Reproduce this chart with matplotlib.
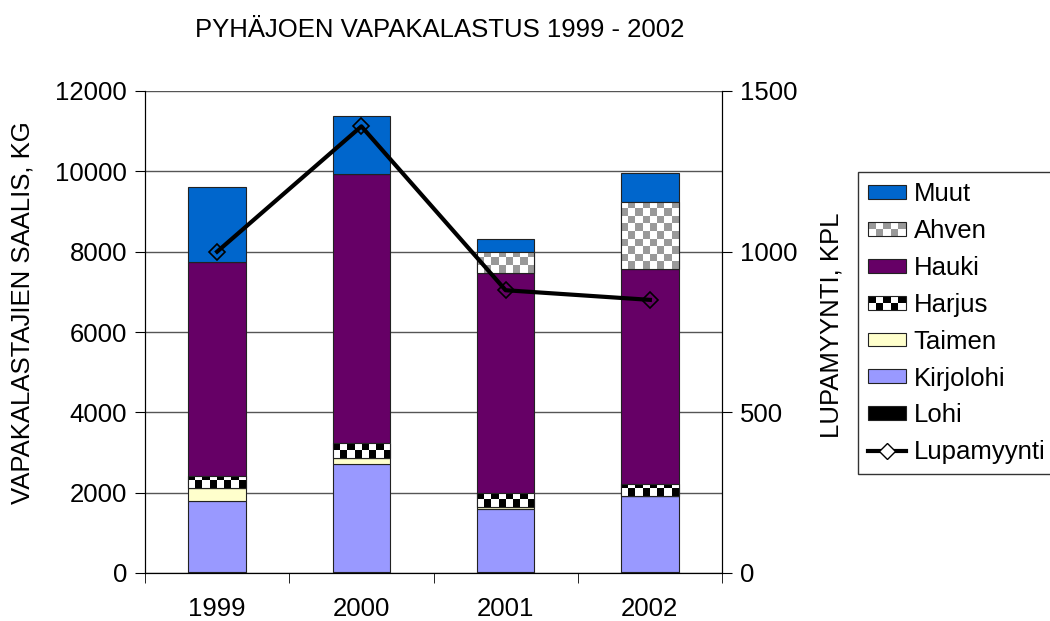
import numpy as np
import matplotlib
matplotlib.use("Agg")
import matplotlib.pyplot as plt
from matplotlib.patches import Rectangle, Patch
from matplotlib.lines import Line2D
from matplotlib.legend_handler import HandlerPatch

plt.rcParams['font.family'] = ['Liberation Sans', 'DejaVu Sans']

years = ['1999', '2000', '2001', '2002']
lohi = [30, 15, 30, 15]
kirjolohi = [1765, 2705, 1555, 1900]
taimen = [315, 135, 50, 0]
harjus = [305, 390, 350, 300]
hauki = [5330, 6690, 5480, 5360]
ahven = [0, 0, 530, 1670]
muut = [1875, 1445, 315, 705]
lupamyynti = [1000, 1390, 880, 850]

series = [
    ('Lohi', lohi, '#000000', None),
    ('Kirjolohi', kirjolohi, '#9999FF', None),
    ('Taimen', taimen, '#FFFFCC', None),
    ('Harjus', harjus, '#FFFFFF', '#000000'),
    ('Hauki', hauki, '#660066', None),
    ('Ahven', ahven, '#FFFFFF', '#999999'),
    ('Muut', muut, '#0066CC', None),
]

FS = 18.5

fig = plt.figure(figsize=(10.5, 6.21), dpi=100)
ax = fig.add_axes([145 / 1050, 1 - 573 / 621, 577 / 1050, 482 / 621])

x = np.arange(len(years))
width = 0.4
bottom = np.zeros(len(years))
patches = {}
for name, vals, col, checker in series:
    vals = np.array(vals, dtype=float)
    bars = ax.bar(x, vals, width, bottom=bottom, color=col, edgecolor='#222222',
                  linewidth=0.8, zorder=3)
    patches[name] = (col, checker)
    if checker is not None:
        # checkerboard fill, clipped to each bar
        cell_h = 187.0
        for rect, v, b in zip(bars, vals, bottom):
            if v <= 0:
                continue
            nrows = int(np.ceil(v / cell_h))
            grid = (np.indices((nrows, 8)).sum(axis=0) % 2).astype(float)
            cmap = matplotlib.colors.ListedColormap(['#FFFFFF', checker])
            x0 = rect.get_x()
            im = ax.imshow(grid, cmap=cmap, origin='lower', interpolation='nearest',
                           extent=(x0, x0 + width, b, b + nrows * cell_h),
                           aspect='auto', zorder=3.5)
            im.set_clip_path(rect)
            edge = Rectangle((x0, b), width, v, fill=False, edgecolor='#222222',
                             linewidth=0.8, zorder=3.6)
            ax.add_patch(edge)
    bottom += vals

ax.set_xlim(-0.5, 3.5)
ax.set_ylim(0, 12000)
ax.set_yticks(np.arange(0, 12001, 2000))
ax.yaxis.grid(True, color='#555555', linewidth=1)
ax.set_axisbelow(True)
ax.set_xticks(x)
ax.set_xticklabels(years, fontsize=FS)
ax.set_xticks(np.arange(-0.5, 3.6, 1), minor=True)
ax.tick_params(axis='x', which='major', length=0, pad=17)
ax.tick_params(axis='x', which='minor', length=7, direction='out')
ax.tick_params(axis='y', labelsize=FS, length=7, direction='out', pad=6)
ax.spines['top'].set_visible(False)

ax2 = ax.twinx()
ax2.plot(x, lupamyynti, color='black', linewidth=3, marker='D', markersize=8,
         markerfacecolor='none', markeredgecolor='black', markeredgewidth=1.2, zorder=5)
ax2.set_ylim(0, 1500)
ax2.set_yticks([0, 500, 1000, 1500])
ax2.tick_params(axis='y', labelsize=FS, length=7, direction='out', pad=6)
ax2.spines['top'].set_visible(False)

fig.text(23 / 1050, 1 - 313 / 621, 'VAPAKALASTAJIEN SAALIS, KG', fontsize=FS,
         rotation=90, ha='center', va='center')
fig.text(831 / 1050, 1 - 325 / 621, 'LUPAMYYNTI, KPL', fontsize=FS,
         rotation=90, ha='center', va='center')
fig.text(440 / 1050, 1 - 30 / 621, 'PYHÄJOEN VAPAKALASTUS 1999 - 2002',
         fontsize=18.5, ha='center', va='center')


class CheckerHandler(HandlerPatch):
    def __init__(self, color):
        super().__init__()
        self.color = color

    def create_artists(self, legend, orig_handle, xdescent, ydescent, width, height,
                       fontsize, trans):
        arts = []
        nx, ny = 5, 2
        cw, ch = width / nx, height / ny
        for i in range(nx):
            for j in range(ny):
                c = self.color if (i + j) % 2 else '#FFFFFF'
                r = Rectangle((-xdescent + i * cw, -ydescent + j * ch), cw, ch,
                              facecolor=c, edgecolor='none', transform=trans)
                arts.append(r)
        arts.append(Rectangle((-xdescent, -ydescent), width, height, fill=False,
                              edgecolor='#222222', linewidth=0.8, transform=trans))
        return arts


order = ['Muut', 'Ahven', 'Hauki', 'Harjus', 'Taimen', 'Kirjolohi', 'Lohi']
handles = []
handler_map = {}
for name in order:
    col, checker = patches[name]
    h = Patch(facecolor=col, edgecolor='#222222', linewidth=0.8, label=name)
    if checker is not None:
        handler_map[h] = CheckerHandler(checker)
    handles.append(h)
line_h = Line2D([], [], color='black', linewidth=3, marker='D', markersize=8,
                markerfacecolor='white', markeredgecolor='black', label='Lupamyynti')
handles.append(line_h)

leg = fig.legend(handles=handles, loc='upper left',
                 bbox_to_anchor=(858 / 1050, 1 - 172 / 621), fontsize=FS,
                 frameon=True, fancybox=False, edgecolor='black',
                 handlelength=1.45, handleheight=0.45, labelspacing=0.5,
                 handletextpad=0.32, borderpad=0.4, borderaxespad=0,
                 handler_map=handler_map)
leg.get_frame().set_linewidth(1)

fig.savefig('out.png', dpi=100)
